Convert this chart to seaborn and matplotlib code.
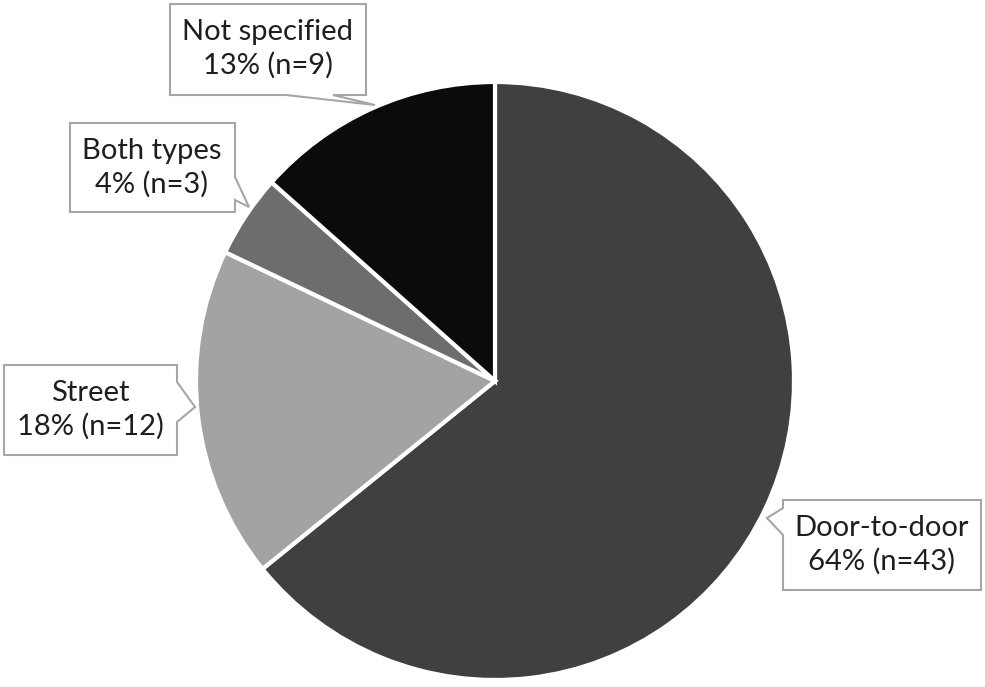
import matplotlib
matplotlib.use("Agg")
import matplotlib.pyplot as plt
from matplotlib.patches import Polygon
import seaborn as sns

# Data
categories = ["Door-to-door", "Street", "Both types", "Not specified"]
counts = [43, 12, 3, 9]
percents = [64, 18, 4, 13]
colors = ["#404040", "#a3a3a3", "#6d6d6d", "#0b0b0b"]

sns.set_theme(style="white")
plt.rcParams["font.family"] = ["Lato", "DejaVu Sans"]

W, H = 985, 687
fig = plt.figure(figsize=(W / 100, H / 100), dpi=100)
ax = fig.add_axes([0, 0, 1, 1])


def Y(y):
    # pixel rows (top origin) -> data y
    return H - y


ax.pie(
    counts,
    colors=colors,
    startangle=90,
    counterclock=False,
    center=(495, Y(381)),
    radius=299,
    wedgeprops=dict(edgecolor="white", linewidth=3),
)

# callout outlines with pointer, in pixel coords
callouts = {
    "Not specified": [(170, 4), (366, 4), (366, 95), (333, 95), (375, 105), (286, 95), (170, 95)],
    "Both types": [(70, 123), (235, 123), (235, 177), (249, 207), (235, 200), (235, 212), (70, 212)],
    "Street": [(4, 365), (177, 365), (177, 382), (195, 407), (177, 422), (177, 455), (4, 455)],
    "Door-to-door": [(783, 500), (981, 500), (981, 590), (783, 590), (783, 535), (767, 518), (783, 508)],
}
centers = {
    "Not specified": (268, 49),
    "Both types": (152, 168),
    "Street": (90, 410),
    "Door-to-door": (882, 545),
}

for cat, n, p in zip(categories, counts, percents):
    pts = [(x, Y(y)) for x, y in callouts[cat]]
    ax.add_patch(Polygon(pts, closed=True, facecolor="white", edgecolor="#a6a6a6",
                         linewidth=1.5, zorder=5))
    cx, cy = centers[cat]
    ax.text(cx, Y(cy), f"{cat}\n{p}% (n={n})", ha="center", va="center",
            fontsize=21, color="#1e1e1e", linespacing=1.32, zorder=6)

ax.set_xlim(0, W)
ax.set_ylim(0, H)
ax.set_aspect("auto")
ax.axis("off")

fig.savefig("out.png", dpi=100)
